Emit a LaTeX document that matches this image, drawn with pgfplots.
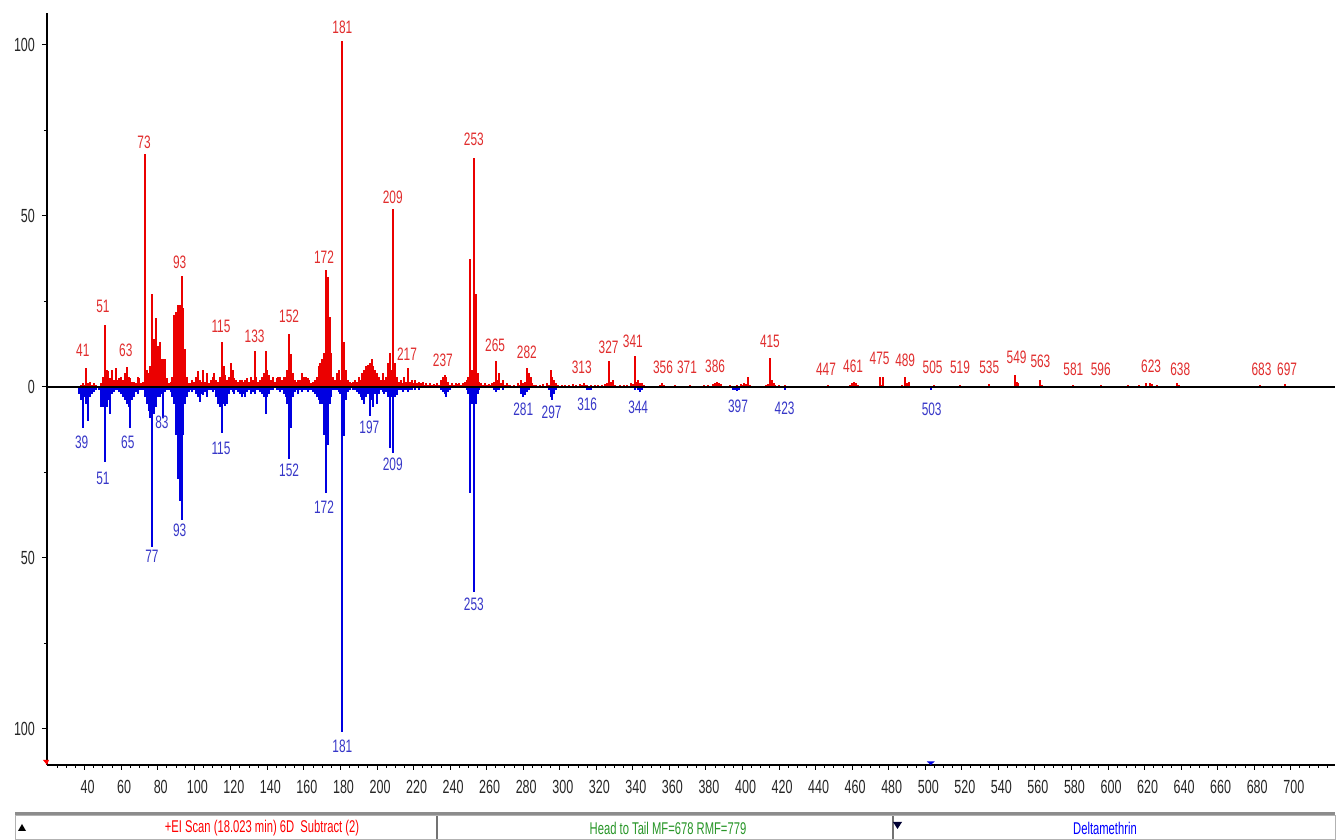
\documentclass[border=0pt]{standalone}
\usepackage{fontspec}
\setmainfont{Liberation Sans}[FakeStretch=0.66]
\usepackage{pgfplots}
\pgfplotsset{compat=1.18}
\definecolor{specred}{RGB}{235,0,0}
\definecolor{specblue}{RGB}{0,0,225}
\definecolor{lblred}{RGB}{225,45,45}
\definecolor{lblblue}{RGB}{55,55,200}
\definecolor{stgreen}{RGB}{40,150,40}
\tikzset{
  lbr/.style={font=\fontsize{9}{9}\selectfont, text=lblred, inner sep=0pt},
  lbb/.style={font=\fontsize{9}{9}\selectfont, text=lblblue, inner sep=0pt},
}
\begin{document}
\begin{tikzpicture}
\fill[white] (0,0) rectangle (670pt,420pt);
\begin{axis}[
  at={(23.5pt,37.5pt)}, anchor=south west,
  scale only axis, width=644pt, height=376pt,
  xmin=19.4, xmax=724.2, ymin=-110.6, ymax=109.3,
  clip=false,
  axis x line*=bottom, axis y line*=left,
  axis line style={-, line width=0.75pt, black},
  xtick={40,60,...,700},
  minor xtick={25,30,...,720},
  ytick={-100,-50,0,50,100},
  yticklabels={100,50,0,50,100},
  minor ytick={-75,-25,25,75},
  tick align=outside,
  major tick length=2.5pt, minor tick length=1.5pt,
  tick style={black, line width=0.5pt},
  /pgf/number format/assume math mode=true,
  tick label style={font=\fontsize{9.5}{9.5}\selectfont, text=black!85},
  xticklabel style={yshift=-1.5pt, xshift=1.5pt},
]
% upper (red) spectrum
\addplot[ycomb, draw=specred, line width=1pt] table {
38 0.5
39 1
40 0.5
41 5.5
42 1
43 1.5
44 0.5
45 1
46 0.5
49 1
50 3
51 18
52 5
53 4.5
54 2.5
55 5
56 2
57 5.5
58 2
59 2.5
60 3
61 2
62 4
63 5.8
64 3
65 2.5
66 1.5
67 1.5
68 1
69 3
70 2.5
71 1
72 1.5
73 68
74 5
75 4
76 6
77 27
78 14
79 20
80 12
81 13
82 8
83 8
84 8
85 2.5
86 1
87 1.5
88 3
89 21
90 22
91 24
92 24
93 32.5
94 23
95 11
96 3
97 1
98 1
99 2
100 1.5
101 3
102 4.5
103 2
104 1.5
105 5
106 1.5
107 4
108 1
109 2
110 3
111 4
112 2
113 1.5
114 3
115 13
116 6
117 3.5
118 2
119 3
120 7
121 5
122 2.5
123 2
124 1.5
125 2
126 2
127 1.5
128 2
129 2.5
130 1.5
131 3
132 2
133 10.5
134 3
135 1.5
136 2
137 3
138 4
139 10.5
140 5
141 3.5
142 2
143 3
144 1.5
145 2.5
146 3
147 3
148 2
149 3
150 3
151 5
152 15.5
153 9.5
154 4
155 2
156 1.5
157 2
158 2
159 4
160 3
161 3
162 2.5
163 2
164 1
165 1.5
166 2
167 3
168 6
169 7
170 8
171 10
172 34
173 32
174 20.5
175 10
176 3
177 2
178 4
179 5
180 2
181 101
182 13
183 5
184 2
185 1.5
186 1
187 1.5
188 2
189 1.5
190 3
191 2
192 4
193 5
194 6
195 6.5
196 7
197 8
198 6
199 5
200 4
201 3
202 2
203 4
204 2
205 3
206 7
207 10
208 5
209 52
210 7
211 3
212 1.5
213 2
214 1
215 3
216 1.5
217 5.5
218 1.5
219 2
220 1
221 2
222 1
223 1.5
224 1
225 1.5
226 0.5
227 1
228 0.5
229 1
230 0.5
231 0.8
232 0.5
233 1
234 0.5
235 2
236 3
237 3.5
238 3
239 1.5
240 0.5
241 1
242 0.5
243 1
244 0.8
245 1
246 0.5
247 1
248 1.5
249 2
250 3
251 37.5
252 5
253 67
254 27
255 4
256 1.5
257 1
258 0.5
259 1
260 0.5
261 0.8
262 0.5
263 1
264 1.5
265 7.5
266 2
267 4
268 1
269 2
270 0.5
271 1
272 0.5
273 0.5
275 0.5
277 1
278 0.5
279 2
280 1
281 1.5
282 5.5
283 4
284 3
285 1
286 0.5
287 0.5
289 0.5
291 0.8
293 1
294 0.5
295 5
296 3
297 2
298 1
299 0.5
301 0.5
303 0.5
305 0.5
307 0.8
309 0.5
311 0.8
312 0.5
313 1
314 0.5
315 0.5
317 0.5
319 0.5
321 0.5
323 0.5
325 0.8
326 1
327 7.5
328 1.5
329 2
330 0.5
333 0.5
335 0.5
337 0.5
339 1
340 0.8
341 9
342 1.5
343 2
344 1
345 1
346 0.5
349 0.3
351 0.3
355 0.5
356 1
357 0.5
359 0.3
363 0.5
365 0.3
369 0.3
371 0.5
372 0.3
375 0.3
379 0.5
381 0.5
384 0.8
385 1
386 1.5
387 1
388 0.8
389 0.3
393 0.5
395 0.3
397 0.5
399 0.8
400 0.5
401 1
402 0.8
403 3
404 0.5
407 0.3
409 0.3
413 0.5
414 0.8
415 8.5
416 2
417 1
418 0.5
420 0.5
423 0.5
425 0.3
431 0.3
439 0.3
447 0.6
451 0.3
459 0.5
460 1
461 1.5
462 1
463 0.5
469 0.3
475 3
476 0.5
477 3
483 0.3
487 0.5
489 3
490 1
491 1.5
497 0.3
505 0.6
511 0.3
519 0.5
527 0.3
535 0.8
541 0.3
549 3.5
550 1.5
551 1
557 0.3
563 2
564 0.5
571 0.3
581 0.5
589 0.3
596 0.5
605 0.3
611 0.5
617 0.6
621 1
623 1.2
624 0.8
627 0.5
631 0.3
638 1
639 0.5
649 0.3
661 0.3
683 0.5
697 0.8
};
% lower (blue) library spectrum
\addplot[ycomb, draw=specblue, line width=1pt] table {
37 -2
38 -4
39 -12
40 -3
41 -5
42 -10
43 -3
44 -2
45 -1.5
46 -1
47 -0.5
48 -1
49 -6
50 -6
51 -22
52 -6
53 -4
54 -8
55 -2
56 -1.5
57 -1
58 -1
59 -1.5
60 -2
61 -3
62 -4
63 -5
64 -6
65 -12
66 -4
67 -3
68 -1.5
69 -2
70 -1
71 -1
72 -1
73 -3
74 -5
75 -7
76 -9
77 -47
78 -8
79 -6
80 -3
81 -3
82 -2
83 -9
84 -1.5
85 -1
86 -1
87 -1.5
88 -3
89 -5
90 -14
91 -27
92 -33.5
93 -39
94 -14
95 -5
96 -3
97 -1.5
98 -1
99 -1.5
100 -1
101 -2
102 -3
103 -4.5
104 -2
105 -2.5
106 -1.5
107 -3
108 -1
109 -1
110 -1.5
111 -1
112 -3
113 -5
114 -6
115 -13.5
116 -5
117 -5.5
118 -5
119 -2
120 -1
121 -1.5
122 -2
123 -1
124 -1.5
125 -2
126 -3
127 -2
128 -3
129 -1.5
130 -1
131 -2
132 -1.5
133 -2
134 -1
135 -1
136 -1.5
137 -2
138 -3
139 -8
140 -3
141 -2
142 -1
143 -1
144 -0.5
145 -1
146 -1
147 -1.5
148 -1
149 -2
150 -3
151 -5
152 -21
153 -12
154 -3
155 -1.5
156 -1
157 -2
158 -1
159 -1.5
160 -1
161 -1
162 -1.5
163 -1
164 -1
165 -1.5
166 -2
167 -3
168 -4
169 -5
170 -5
171 -14
172 -31
173 -17
174 -5
175 -3
176 -1
177 -1
178 -1
179 -1.5
180 -2
181 -101
182 -14.5
183 -4
184 -1.5
185 -1
186 -0.5
187 -1
188 -1
189 -1.5
190 -2
191 -3
192 -4
193 -5
194 -3
195 -2
196 -8.5
197 -4
198 -6
199 -2
200 -5
201 -2
202 -1
203 -1.5
204 -2
205 -1.5
206 -3
207 -18
208 -3
209 -19.5
210 -3
211 -2.5
212 -1
213 -1
214 -1.5
215 -1
216 -1
217 -1.5
218 -1
219 -1
220 -0.5
221 -1
222 -0.5
223 -0.8
224 -0.5
225 -0.5
227 -0.5
229 -0.5
231 -0.5
233 -0.5
235 -1
236 -1.5
237 -2
238 -3
239 -1.5
240 -1
241 -0.5
243 -0.5
245 -0.5
247 -0.5
249 -1
250 -2
251 -31
252 -5
253 -60
254 -5
255 -2
256 -1
257 -0.5
259 -0.5
261 -0.5
263 -0.5
264 -0.8
265 -1.5
266 -1
267 -1
268 -0.5
269 -1
271 -0.5
273 -0.3
277 -0.5
279 -2
280 -3
281 -2.5
282 -1.5
283 -1
284 -0.5
287 -0.3
291 -0.3
293 -0.5
294 -1
295 -3
296 -4
297 -2
298 -1
299 -0.5
301 -0.3
305 -0.3
309 -0.3
313 -0.5
315 -0.8
316 -1
317 -0.8
319 -0.5
321 -0.3
327 -0.5
329 -0.3
335 -0.3
341 -0.8
343 -1
344 -1.5
345 -1
346 -0.5
355 -0.3
371 -0.3
385 -0.3
393 -0.5
395 -0.8
396 -1
397 -1.2
398 -1
399 -0.5
401 -0.3
415 -0.3
421 -0.5
422 -0.5
423 -0.8
424 -0.3
503 -0.8
};
% zero line
\addplot[black, line width=0.75pt] coordinates {(19.4,0) (724.2,0)};
% small markers on the axes
\fill[red] (axis cs:19.4,-110.6) -- ++(-2pt,2.5pt) -- ++(3pt,0pt) -- cycle;
\fill[specblue] (axis cs:503,-110.6) -- ++(-2pt,1.8pt) -- ++(4pt,0pt) -- cycle;
% red labels
\node[lbr] at (axis cs:39,10.7) {41};
\node[lbr] at (axis cs:50,23.5) {51};
\node[lbr] at (axis cs:62.5,10.6) {63};
\node[lbr] at (axis cs:72.5,71.5) {73};
\node[lbr] at (axis cs:92,36.4) {93};
\node[lbr] at (axis cs:114.6,17.7) {115};
\node[lbr] at (axis cs:133,14.8) {133};
\node[lbr] at (axis cs:151.9,20.6) {152};
\node[lbr] at (axis cs:171,38) {172};
\node[lbr] at (axis cs:181,105) {181};
\node[lbr] at (axis cs:208.6,55.5) {209};
\node[lbr] at (axis cs:216.4,9.5) {217};
\node[lbr] at (axis cs:236,7.8) {237};
\node[lbr] at (axis cs:253,72.4) {253};
\node[lbr] at (axis cs:264.6,12.2) {265};
\node[lbr] at (axis cs:282,10.1) {282};
\node[lbr] at (axis cs:312,5.8) {313};
\node[lbr] at (axis cs:326.7,11.6) {327};
\node[lbr] at (axis cs:340,13.4) {341};
\node[lbr] at (axis cs:356.5,5.8) {356};
\node[lbr] at (axis cs:369.6,5.6) {371};
\node[lbr] at (axis cs:385,6) {386};
\node[lbr] at (axis cs:415,13.3) {415};
\node[lbr] at (axis cs:445.7,5.2) {447};
\node[lbr] at (axis cs:460.5,6) {461};
\node[lbr] at (axis cs:475,8.4) {475};
\node[lbr] at (axis cs:489,7.8) {489};
\node[lbr] at (axis cs:504,5.7) {505};
\node[lbr] at (axis cs:519,5.7) {519};
\node[lbr] at (axis cs:535,5.7) {535};
\node[lbr] at (axis cs:550,8.7) {549};
\node[lbr] at (axis cs:563,7.5) {563};
\node[lbr] at (axis cs:581,5.2) {581};
\node[lbr] at (axis cs:596,5.2) {596};
\node[lbr] at (axis cs:623.6,6) {623};
\node[lbr] at (axis cs:639.5,5.2) {638};
\node[lbr] at (axis cs:684,5.2) {683};
\node[lbr] at (axis cs:698,5.2) {697};
% blue labels
\node[lbb] at (axis cs:38.4,-16.2) {39};
\node[lbb] at (axis cs:50,-26.7) {51};
\node[lbb] at (axis cs:63.6,-16.2) {65};
\node[lbb] at (axis cs:76.8,-49.5) {77};
\node[lbb] at (axis cs:82.3,-10.3) {83};
\node[lbb] at (axis cs:92,-41.9) {93};
\node[lbb] at (axis cs:114.6,-17.9) {115};
\node[lbb] at (axis cs:151.9,-24.4) {152};
\node[lbb] at (axis cs:171,-35.2) {172};
\node[lbb] at (axis cs:181,-105) {181};
\node[lbb] at (axis cs:195.8,-11.8) {197};
\node[lbb] at (axis cs:208.6,-22.6) {209};
\node[lbb] at (axis cs:253,-63.6) {253};
\node[lbb] at (axis cs:280,-6.5) {281};
\node[lbb] at (axis cs:295.5,-7.4) {297};
\node[lbb] at (axis cs:315,-5) {316};
\node[lbb] at (axis cs:342.9,-6) {344};
\node[lbb] at (axis cs:397.5,-5.6) {397};
\node[lbb] at (axis cs:423,-6.2) {423};
\node[lbb] at (axis cs:503.5,-6.5) {503};
\end{axis}
% status bar
\draw[black!45, line width=1.5pt] (7.5pt,13pt) -- (667.5pt,13pt);
\draw[black!30, line width=0.5pt] (7.5pt,0.3pt) rectangle (667.5pt,12pt);
\draw[black!55, line width=1pt] (218.5pt,0.3pt) -- (218.5pt,12pt);
\draw[black!55, line width=1pt] (446.5pt,0.3pt) -- (446.5pt,12pt);
\fill[black] (9pt,4.5pt) -- (13pt,4.5pt) -- (11pt,8pt) -- cycle;
\fill[black!80!blue] (446.5pt,9pt) -- (451pt,9pt) -- (448.75pt,5.5pt) -- cycle;
\node[font=\fontsize{8.5}{8.5}\selectfont, text=red, inner sep=0pt] at (131pt,6pt) {+EI Scan (18.023 min) 6D\ \ Subtract (2)};
\node[font=\fontsize{8.5}{8.5}\selectfont, text=stgreen, inner sep=0pt] at (334pt,6pt) {Head to Tail MF=678 RMF=779};
\node[font=\fontsize{8.5}{8.5}\selectfont, text=blue, inner sep=0pt] at (552.5pt,6pt) {Deltamethrin};
\pgfresetboundingbox
\useasboundingbox (0,0) rectangle (670pt,420pt);
\end{tikzpicture}
\end{document}
